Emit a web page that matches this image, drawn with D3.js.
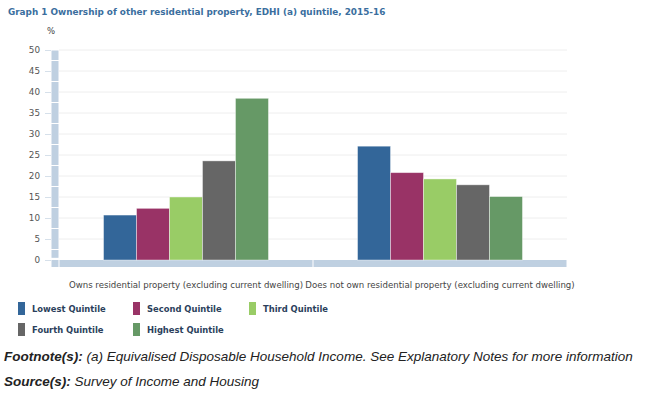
<!DOCTYPE html>
<html>
<head>
<meta charset="utf-8">
<script src="https://cdn.jsdelivr.net/npm/d3@7"></script>
<style>
  body { margin: 0; background: #fff; }
  svg { display: block; }
</style>
</head>
<body>
<svg id="chart" width="660" height="396"></svg>
<script>
// data
var categories = ["Owns residential property (excluding current dwelling)",
                  "Does not own residential property (excluding current dwelling)"];
var series = ["Lowest Quintile", "Second Quintile", "Third Quintile", "Fourth Quintile", "Highest Quintile"];
var owns = [10.7, 12.3, 15.0, 23.6, 38.5];
var doesNotOwn = [27.1, 20.8, 19.3, 17.9, 15.1];
var yTicks = [0, 5, 10, 15, 20, 25, 30, 35, 40, 45, 50];

var colors = ["#336699", "#993366", "#99cc66", "#666666", "#669966"];
var axisColor = "#bfd0e1";

var svg = d3.select("#chart");

var y = d3.scaleLinear().domain([0, 50]).range([260, 50]);
var x0 = d3.scaleBand().domain(categories).range([59, 567]);
var x1 = d3.scaleBand().domain(series).range([0, x0.bandwidth()]).paddingOuter(1.35);
var color = d3.scaleOrdinal().domain(series).range(colors);

// title
svg.append("text")
  .attr("x", 8).attr("y", 15)
  .attr("font-family", "DejaVu Sans, Verdana, sans-serif")
  .attr("font-size", 8.85).attr("font-weight", "bold")
  .attr("fill", "#3a6e9e")
  .text("Graph 1 Ownership of other residential property, EDHI (a) quintile, 2015-16");

svg.append("text")
  .attr("x", 47).attr("y", 34)
  .attr("font-family", "DejaVu Sans, Verdana, sans-serif")
  .attr("font-size", 8.5).attr("fill", "#444")
  .text("%");

// gridlines
svg.append("g").selectAll("line")
  .data(yTicks.filter(function(d) { return d > 0; }))
  .join("line")
  .attr("x1", 59).attr("x2", 567)
  .attr("y1", function(d) { return y(d); }).attr("y2", function(d) { return y(d); })
  .attr("stroke", "#eeeeee").attr("stroke-width", 1);

// y axis labels and ticks
var yAxis = d3.axisLeft(y).tickValues(yTicks).tickSize(6).tickPadding(5);
var gy = svg.append("g").attr("transform", "translate(51,0)").call(yAxis);
gy.select(".domain").remove();
gy.selectAll(".tick line").attr("stroke", "#d6e0ea");
gy.selectAll(".tick text")
  .attr("font-family", "DejaVu Sans, Verdana, sans-serif")
  .attr("font-size", 8.8).attr("fill", "#555");

// vertical axis bar, segmented
var segs = [50, 47.5, 42.5, 37.5, 32.5, 27.5, 22.5, 17.5, 12.5, 7.5, 2.5, 0.4];
var segPairs = d3.pairs(segs);
svg.append("g").selectAll("rect")
  .data(segPairs)
  .join("rect")
  .attr("x", 51.5).attr("width", 7)
  .attr("y", function(d) { return y(d[0]) + 0.5; })
  .attr("height", function(d) { return y(d[1]) - y(d[0]) - 1; })
  .attr("fill", axisColor);
svg.append("rect")
  .attr("x", 51.5).attr("width", 7)
  .attr("y", y(0)).attr("height", 7)
  .attr("fill", axisColor);

// horizontal axis bar, one piece per category
svg.append("g").selectAll("rect")
  .data(categories)
  .join("rect")
  .attr("x", function(d) { return x0(d) + 0.5; })
  .attr("width", function() { return x0.bandwidth() - 1; })
  .attr("y", y(0)).attr("height", 7)
  .attr("fill", axisColor);

// bars
var groups = svg.append("g").selectAll("g")
  .data([owns, doesNotOwn])
  .join("g")
  .attr("transform", function(d, i) { return "translate(" + x0(categories[i]) + ",0)"; });

groups.selectAll("rect")
  .data(function(vals) { return vals.map(function(v, j) { return { s: series[j], v: v }; }); })
  .join("rect")
  .attr("x", function(d) { return x1(d.s); })
  .attr("width", x1.bandwidth())
  .attr("y", function(d) { return y(d.v); })
  .attr("height", function(d) { return y(0) - y(d.v); })
  .attr("fill", function(d) { return color(d.s); })
  .attr("stroke", "rgba(255,255,255,0.5)").attr("stroke-width", 0.8);

// category labels
svg.append("g").selectAll("text")
  .data(categories)
  .join("text")
  .attr("x", function(d) { return x0(d) + x0.bandwidth() / 2; })
  .attr("y", 288)
  .attr("text-anchor", "middle")
  .attr("font-family", "DejaVu Sans, Verdana, sans-serif")
  .attr("font-size", 8.6).attr("fill", "#444")
  .text(function(d) { return d; });

// legend
var legendPos = [[18, 302], [133, 302], [249, 302], [18, 323], [133, 323]];
var legend = svg.append("g").selectAll("g")
  .data(series)
  .join("g")
  .attr("transform", function(d, i) { return "translate(" + legendPos[i][0] + "," + legendPos[i][1] + ")"; });
legend.append("rect")
  .attr("width", 7).attr("height", 13)
  .attr("fill", function(d) { return color(d); });
legend.append("text")
  .attr("x", 14).attr("y", 9.5)
  .attr("font-family", "DejaVu Sans, Verdana, sans-serif")
  .attr("font-size", 8.4).attr("font-weight", "bold")
  .attr("fill", "#2b3f5c")
  .text(function(d) { return d; });

// footnotes
var foot = svg.append("text")
  .attr("x", 4).attr("y", 361)
  .attr("font-family", "Liberation Sans, Arial, sans-serif")
  .attr("font-size", 13.5).attr("font-style", "italic").attr("fill", "#222");
foot.append("tspan").attr("font-weight", "bold").text("Footnote(s):");
foot.append("tspan").text(" (a) Equivalised Disposable Household Income. See Explanatory Notes for more information");

var src = svg.append("text")
  .attr("x", 4).attr("y", 386)
  .attr("font-family", "Liberation Sans, Arial, sans-serif")
  .attr("font-size", 13.5).attr("font-style", "italic").attr("fill", "#222");
src.append("tspan").attr("font-weight", "bold").text("Source(s):");
src.append("tspan").text(" Survey of Income and Housing");
</script>
</body>
</html>
